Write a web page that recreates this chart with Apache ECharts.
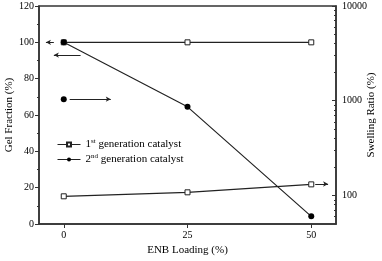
<!DOCTYPE html>
<html><head><meta charset="utf-8">
<script src="https://cdn.jsdelivr.net/npm/echarts@6/dist/echarts.min.js"></script>
<style>html,body{margin:0;padding:0;background:#fff}#c{width:382px;height:261px}</style>
</head><body><div id="c"></div>
<script>
var loading = [0, 25, 50];
var xTicks = [0, 25, 50];
var gel1 = [100, 100, 100];
var swell1 = [98, 108, 131];
var gel2 = [100, 64.5, 4.2];
var swell2 = [1040];
var rightTicks = [100, 1000, 10000];
var rightMinor = [60,70,80,90,200,300,400,500,600,700,800,900,2000,3000,4000,5000,6000,7000,8000,9000];
var names = ['1st generation catalyst', '2nd generation catalyst'];

function pairs(xs, ys) { return ys.map(function (y, i) { return [xs[i], y]; }); }

var font = 'Liberation Serif';
var ink = '#222';
var chart = echarts.init(document.getElementById('c'), null, {renderer: 'canvas'});
var arrowLine = {color: ink, width: 1, type: 'solid'};
chart.setOption({
  animation: false,
  textStyle: {fontFamily: font, color: '#000'},
  grid: {left: 39, right: 46, top: 6, bottom: 37, show: true, borderColor: '#333', borderWidth: 1.5,
    containLabel: false, outerBoundsMode: 'none'},
  legend: {
    data: names, left: 57, top: 138, padding: 0, orient: 'vertical', itemWidth: 23, itemHeight: 5, itemGap: 2,
    lineStyle: {width: 1},
    textStyle: {fontFamily: font, fontSize: 11, color: '#000', lineHeight: 13,
      rich: {sup: {fontSize: 7, fontFamily: font, verticalAlign: 'top', lineHeight: 9}}},
    formatter: function (n) { return n.replace(/^(\d)(st|nd)/, '$1{sup|$2}'); }
  },
  xAxis: {
    type: 'value', min: -5, max: 55,
    name: 'ENB Loading (%)', nameLocation: 'middle', nameGap: 21, nameMoveOverlap: false,
    nameTextStyle: {fontFamily: font, fontSize: 11, color: '#000'},
    axisLine: {onZero: false, lineStyle: {color: '#333', width: 1.5}},
    axisTick: {show: true, length: 4, customValues: xTicks, lineStyle: {color: '#333'}},
    axisLabel: {customValues: xTicks, fontFamily: font, fontSize: 10, color: '#000', margin: 6},
    splitLine: {show: false}
  },
  yAxis: [
    {
      type: 'value', min: 0, max: 120, interval: 20, position: 'left',
      name: 'Gel Fraction (%)', nameLocation: 'middle', nameGap: 24, nameRotate: 90, nameMoveOverlap: false,
      nameTextStyle: {fontFamily: font, fontSize: 11, color: '#000'},
      axisLine: {show: true, onZero: false, lineStyle: {color: '#333', width: 1.5}},
      axisTick: {show: true, length: 4, lineStyle: {color: '#333'}},
      minorTick: {show: true, splitNumber: 2, length: 2, lineStyle: {color: '#333'}},
      axisLabel: {fontFamily: font, fontSize: 10, color: '#000', margin: 5},
      splitLine: {show: false}
    },
    {
      type: 'log', min: 50, max: 10000, position: 'right',
      name: 'Swelling Ratio (%)', nameLocation: 'middle', nameGap: 30, nameRotate: 90, nameMoveOverlap: false,
      nameTextStyle: {fontFamily: font, fontSize: 11, color: '#000'},
      axisLine: {show: true, onZero: false, lineStyle: {color: '#333', width: 1.5}},
      axisTick: {show: true, inside: true, length: 4, customValues: rightTicks, lineStyle: {color: '#333'}},
      axisLabel: {customValues: rightTicks, fontFamily: font, fontSize: 10, color: '#000', margin: 6,
        formatter: function (v) { return String(Math.round(v)); }},
      splitLine: {show: false}
    },
    {
      type: 'log', min: 50, max: 10000, position: 'right',
      axisLine: {show: false, onZero: false},
      axisTick: {show: true, inside: true, length: 2, customValues: rightMinor, lineStyle: {color: '#333'}},
      axisLabel: {show: false},
      splitLine: {show: false}
    }
  ],
  series: [
    {name: names[0], type: 'line', yAxisIndex: 0, data: pairs(loading, gel1),
      symbol: 'rect', symbolSize: 5, lineStyle: {color: ink, width: 1.2},
      itemStyle: {color: '#fff', borderColor: ink, borderWidth: 1}},
    {name: names[0], type: 'line', yAxisIndex: 1, data: pairs(loading, swell1),
      symbol: 'rect', symbolSize: 5, lineStyle: {color: ink, width: 1.2},
      itemStyle: {color: '#fff', borderColor: ink, borderWidth: 1}},
    {name: names[1], type: 'line', yAxisIndex: 0, data: pairs(loading, gel2),
      symbol: 'circle', symbolSize: 6, lineStyle: {color: ink, width: 1.2},
      itemStyle: {color: '#000', borderColor: '#000', borderWidth: 0},
      markLine: {
        silent: true, symbolSize: [4, 5], label: {show: false}, lineStyle: arrowLine,
        data: [
          [{coord: [-3.6, 100], symbol: 'arrow'}, {coord: [-2.0, 100], symbol: 'none'}],
          [{coord: [-2.0, 93], symbol: 'arrow'}, {coord: [3.4, 93], symbol: 'none'}],
          [{coord: [1.2, 68.7], symbol: 'none'}, {coord: [9.5, 68.7], symbol: 'arrow'}],
          [{coord: [50.8, 22], symbol: 'none'}, {coord: [53.4, 22], symbol: 'arrow'}]
        ]
      }},
    {name: names[1], type: 'line', yAxisIndex: 1, data: pairs(loading, swell2),
      symbol: 'circle', symbolSize: 6, lineStyle: {color: ink, width: 1.2},
      itemStyle: {color: '#000'}}
  ]
});
</script></body></html>
